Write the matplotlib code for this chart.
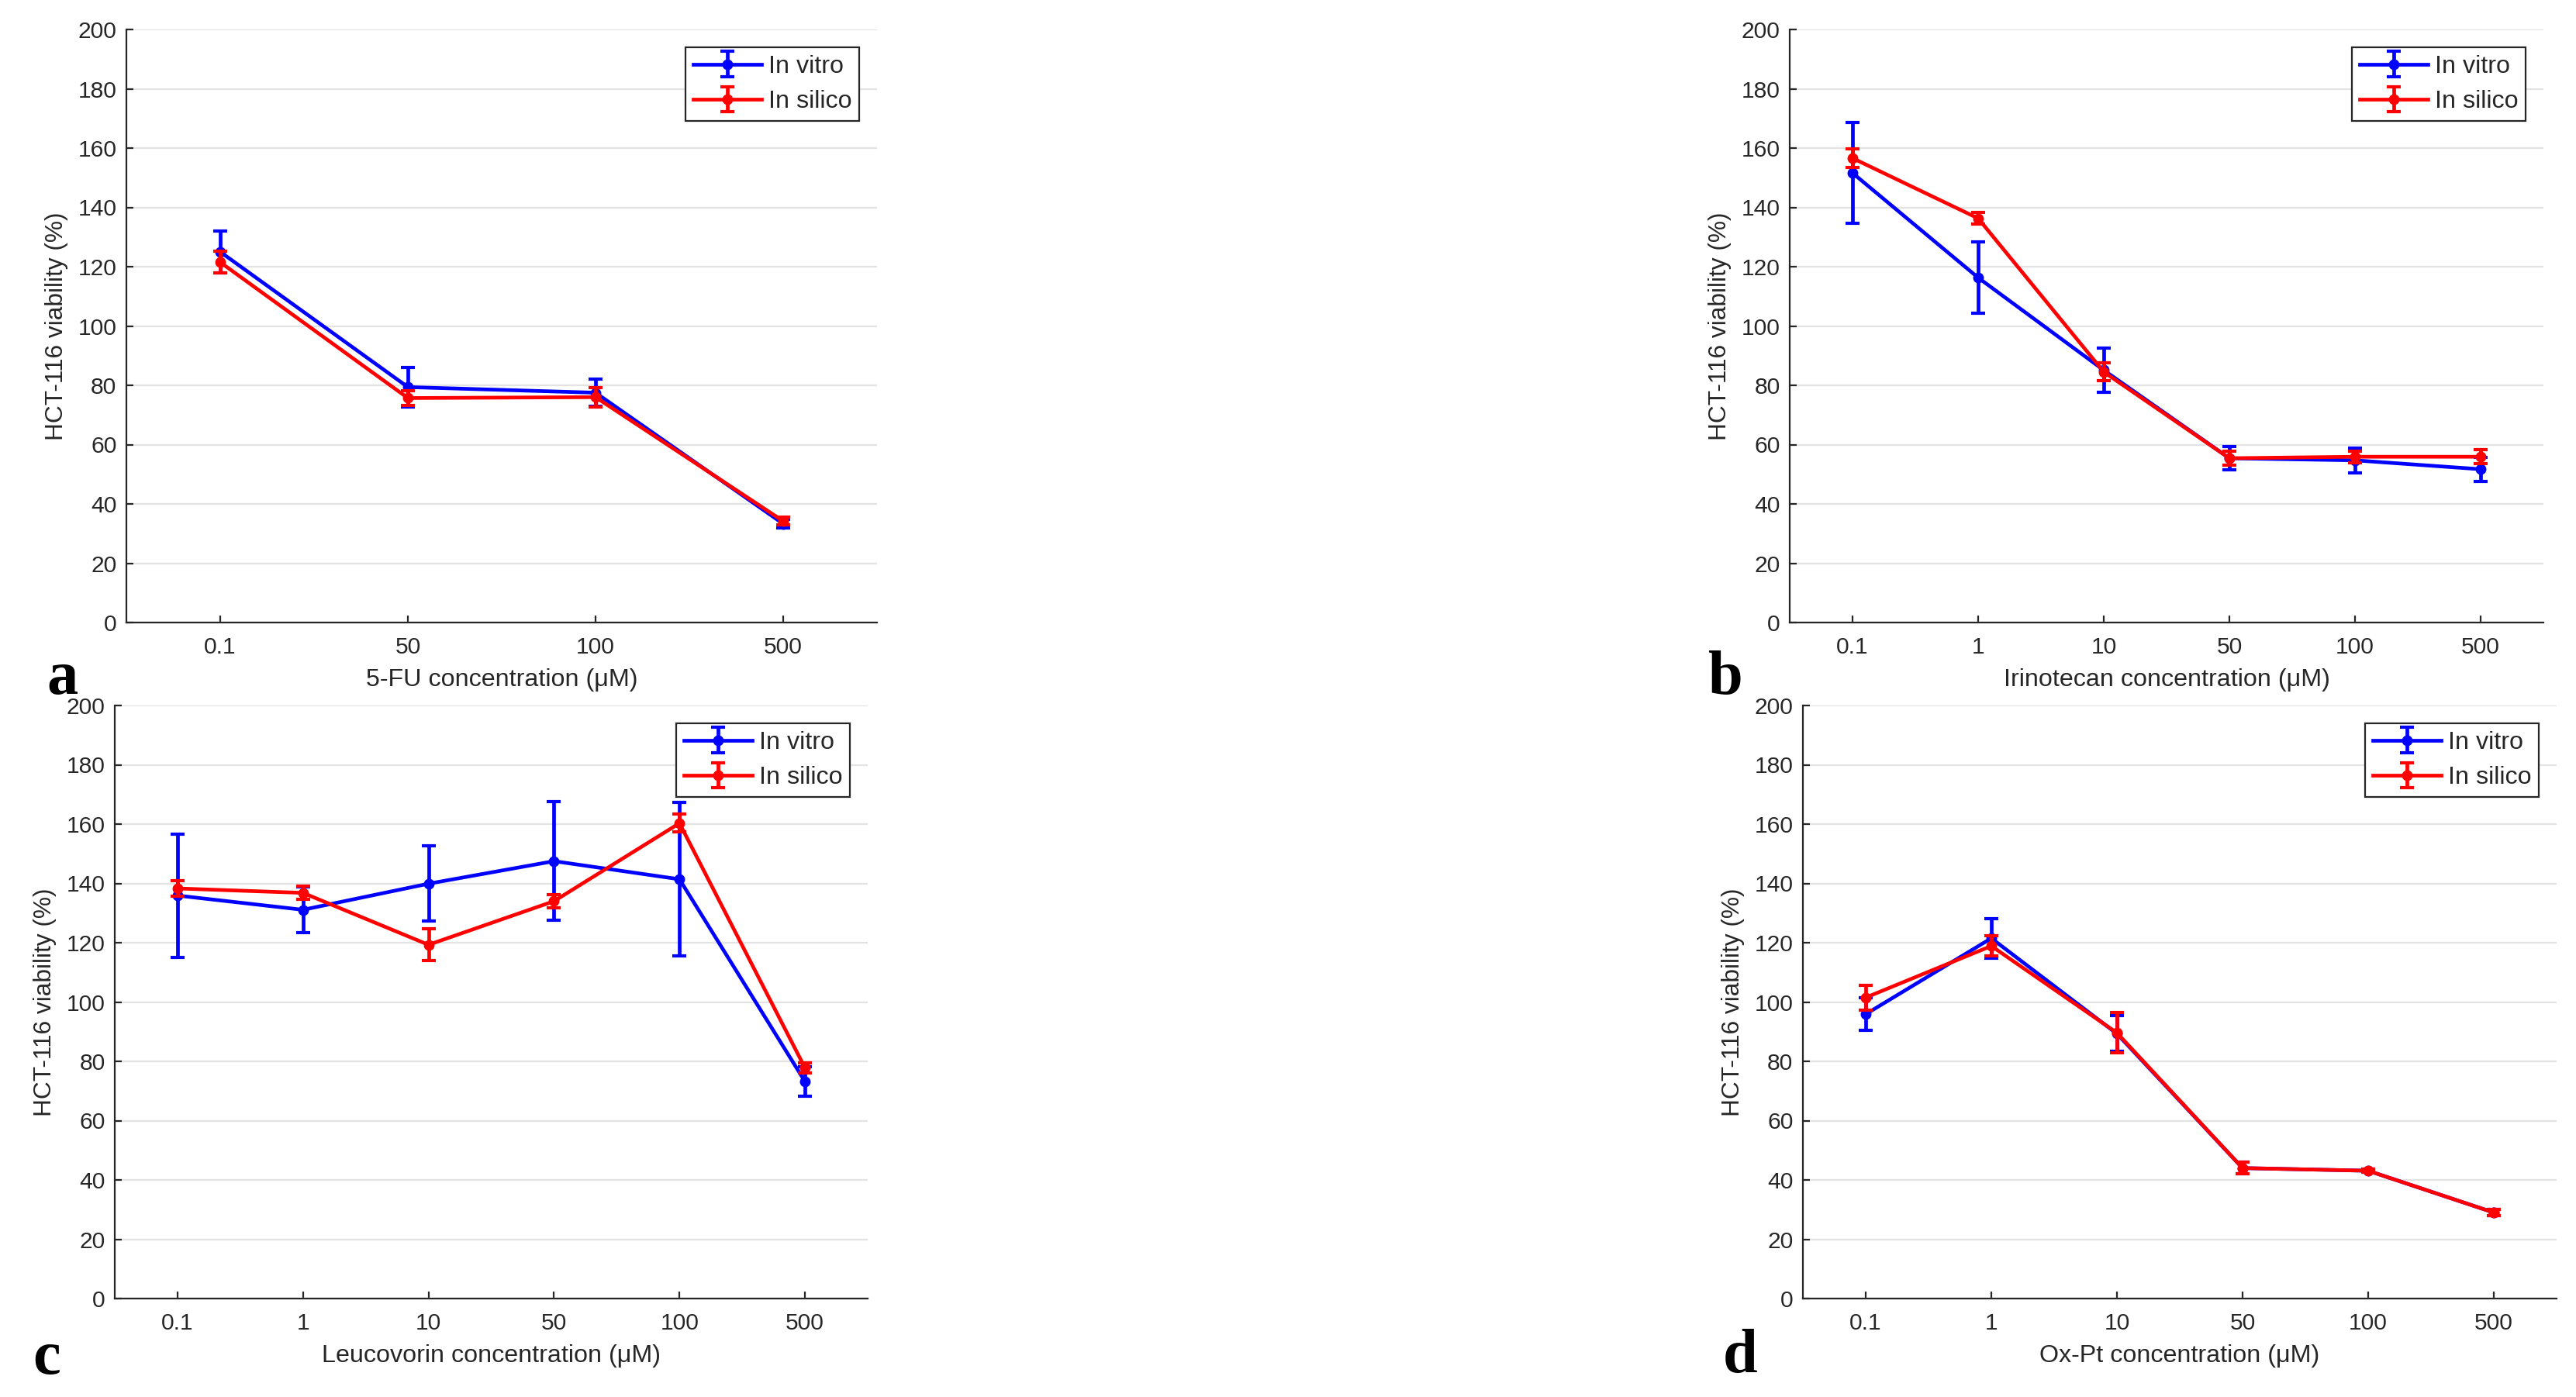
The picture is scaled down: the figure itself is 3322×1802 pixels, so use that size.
import matplotlib
matplotlib.use("Agg")
import matplotlib.pyplot as plt

# ---------------- data ----------------
labels_a = ['0.1', '50', '100', '500']
vitro_a = [125.0, 79.4, 77.5, 33.3]
vitro_a_err = [7.0, 6.7, 4.6, 1.5]
silico_a = [121.5, 75.7, 76.0, 34.2]
silico_a_err = [3.7, 2.5, 3.2, 1.3]

labels_b = ['0.1', '1', '10', '50', '100', '500']
vitro_b = [151.6, 116.3, 85.1, 55.4, 54.7, 51.7]
vitro_b_err = [17.0, 12.0, 7.5, 4.0, 4.2, 4.0]
silico_b = [156.6, 136.3, 84.5, 55.4, 55.9, 55.9]
silico_b_err = [3.2, 2.0, 3.0, 2.3, 2.0, 2.3]

labels_c = ['0.1', '1', '10', '50', '100', '500']
vitro_c = [135.9, 131.1, 139.9, 147.5, 141.4, 73.2]
vitro_c_err = [20.8, 7.6, 12.7, 20.0, 25.8, 4.9]
silico_c = [138.3, 136.8, 119.3, 134.0, 160.3, 77.8]
silico_c_err = [2.6, 2.2, 5.3, 2.3, 3.0, 1.7]

labels_d = ['0.1', '1', '10', '50', '100', '500']
vitro_d = [95.9, 121.5, 89.3, 44.0, 43.1, 29.0]
vitro_d_err = [5.5, 6.6, 6.0, 2.0, 0.5, 1.0]
silico_d = [101.5, 118.9, 89.6, 44.0, 43.1, 29.0]
silico_d_err = [4.2, 3.4, 6.8, 2.0, 0.5, 1.0]

xlabels = ['5-FU concentration (μM)', 'Irinotecan concentration (μM)',
           'Leucovorin concentration (μM)', 'Ox-Pt concentration (μM)']
panel_letters = ['a', 'b', 'c', 'd']
ylabel = 'HCT-116 viability (%)'
series_names = ['In vitro', 'In silico']

# ---------------- style ----------------
W, H = 3322, 1802
DPI = 200
plt.rcParams['font.family'] = ['Liberation Sans', 'DejaVu Sans']
fig = plt.figure(figsize=(W / DPI, H / DPI), dpi=DPI)

AX_COLOR = '#262626'
GRID_COLOR = '#e3e3e3'
BLUE = '#0000ff'
RED = '#ff0000'

# axes boxes in pixels: left, right, top, bottom
boxes = [(163, 1131, 38, 803),
         (2308, 3280, 38, 803),
         (148, 1119, 910, 1675),
         (2325, 3297, 910, 1675)]
letter_pos = [(60, 895), (2203, 895), (42, 1772), (2222, 1770)]

panels = [
    (labels_a, vitro_a, vitro_a_err, silico_a, silico_a_err),
    (labels_b, vitro_b, vitro_b_err, silico_b, silico_b_err),
    (labels_c, vitro_c, vitro_c_err, silico_c, silico_c_err),
    (labels_d, vitro_d, vitro_d_err, silico_d, silico_d_err),
]

for i, (labs, v, ve, s, se) in enumerate(panels):
    l, r, t, b = boxes[i]
    ax = fig.add_axes([l / W, 1 - b / H, (r - l) / W, (b - t) / H])
    x = list(range(1, len(labs) + 1))
    common = dict(linewidth=1.7, marker='o', markersize=4.0,
                  elinewidth=1.7, capsize=3.3, capthick=1.5)
    ax.errorbar(x, v, yerr=ve, color=BLUE, label=series_names[0], zorder=3, **common)
    ax.errorbar(x, s, yerr=se, color=RED, label=series_names[1], zorder=4, **common)

    ax.set_xlim(0.5, len(labs) + 0.5)
    ax.set_ylim(0, 200)
    ax.set_yticks(range(0, 201, 20))
    ax.set_xticks(x)
    ax.set_xticklabels(labs)

    for side in ('top', 'right'):
        ax.spines[side].set_visible(False)
    for side in ('left', 'bottom'):
        ax.spines[side].set_color(AX_COLOR)
        ax.spines[side].set_linewidth(0.8)

    ax.yaxis.grid(True, color=GRID_COLOR, linewidth=0.8)
    ax.set_axisbelow(True)
    ax.tick_params(axis='both', direction='in', length=3.2, width=0.8,
                   colors=AX_COLOR, labelsize=10.8)
    ax.tick_params(axis='x', pad=6.5)
    ax.tick_params(axis='y', pad=4.5)

    ax.set_xlabel(xlabels[i], fontsize=11.6, color=AX_COLOR, labelpad=4.5)
    ax.set_ylabel(ylabel, fontsize=11.4, color=AX_COLOR, labelpad=4.5)

    leg = ax.legend(loc='upper right', fontsize=11.6, fancybox=False,
                    edgecolor=AX_COLOR, framealpha=1, borderpad=0.3,
                    borderaxespad=0.72, handlelength=2.75, handletextpad=0.25,
                    labelspacing=0.47)
    leg.get_frame().set_linewidth(0.8)
    for txt in leg.get_texts():
        txt.set_color(AX_COLOR)

    lx, ly = letter_pos[i]
    fig.text(lx / W, 1 - ly / H, panel_letters[i], fontsize=29,
             fontweight='bold', family=['Liberation Serif', 'DejaVu Serif'],
             ha='left', va='baseline', color='black')

fig.savefig('out.png', dpi=DPI)
